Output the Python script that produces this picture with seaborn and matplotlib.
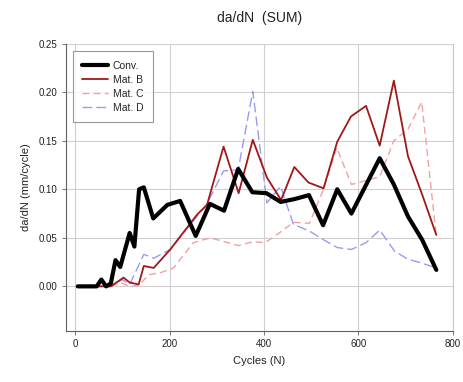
import matplotlib
matplotlib.use("Agg")
import matplotlib.pyplot as plt
import seaborn as sns
import pandas as pd

# ---- data ----
conv_x = [5, 45, 55, 65, 75, 85, 95, 115, 125, 135, 145, 165, 195, 222, 255, 285,
          315, 345, 375, 405, 435, 465, 495, 525, 555, 585, 645, 675, 705, 735, 765]
conv_y = [0.000, 0.000, 0.007, 0.000, 0.003, 0.027, 0.020, 0.055, 0.041, 0.100, 0.102,
          0.070, 0.084, 0.088, 0.052, 0.085, 0.078, 0.121, 0.097, 0.096, 0.087, 0.090,
          0.094, 0.063, 0.100, 0.075, 0.132, 0.105, 0.072, 0.048, 0.017]

matb_x = [5, 45, 75, 102, 115, 134, 145, 166, 201, 258, 279, 314, 346, 376, 406, 436,
          464, 494, 526, 555, 584, 616, 645, 675, 705, 734, 765]
matb_y = [0.000, 0.000, 0.000, 0.009, 0.004, 0.002, 0.021, 0.019, 0.038, 0.074, 0.084,
          0.144, 0.096, 0.151, 0.112, 0.089, 0.123, 0.107, 0.101, 0.149, 0.175, 0.186,
          0.145, 0.212, 0.134, 0.096, 0.053]

matc_x = [5, 45, 75, 95, 115, 135, 155, 180, 208, 250, 286, 346, 376, 402, 432, 462,
          496, 526, 554, 585, 616, 645, 675, 705, 734, 765]
matc_y = [0.000, 0.000, 0.000, 0.004, 0.000, 0.001, 0.012, 0.014, 0.019, 0.045, 0.050,
          0.042, 0.046, 0.045, 0.055, 0.066, 0.065, 0.100, 0.143, 0.105, 0.109, 0.113,
          0.150, 0.162, 0.190, 0.052]

matd_x = [5, 45, 75, 99, 115, 145, 166, 201, 279, 314, 345, 376, 406, 435, 462, 496,
          526, 555, 585, 616, 645, 677, 705, 734, 765]
matd_y = [0.000, 0.000, 0.000, 0.007, 0.002, 0.033, 0.029, 0.038, 0.085, 0.119, 0.120,
          0.201, 0.086, 0.103, 0.064, 0.057, 0.048, 0.040, 0.038, 0.045, 0.058, 0.036,
          0.028, 0.024, 0.019]

series_names = ["Conv.", "Mat. B", "Mat. C", "Mat. D"]
x_ticks = [0, 200, 400, 600, 800]
y_ticks = [0.00, 0.05, 0.10, 0.15, 0.20, 0.25]

# ---- plot ----
sns.set_style("white")
plt.rcParams['font.family'] = ['Liberation Sans', 'DejaVu Sans']

fig = plt.figure(figsize=(4.63, 3.82), dpi=100)
ax = fig.add_axes([0.1425, 0.1335, 0.8355, 0.752])

styles = [
    dict(color="black", lw=3.0, ls="-"),
    dict(color="#a01818", lw=1.3, ls="-"),
    dict(color="#f4a0a0", lw=1.0, ls=(0, (5, 3))),
    dict(color="#9a9af2", lw=1.0, ls=(0, (7, 3))),
]
data = [(conv_x, conv_y), (matb_x, matb_y), (matc_x, matc_y), (matd_x, matd_y)]

# draw back-to-front like the reference (Conv. on top)
order = [3, 2, 1, 0]
for i in order:
    xs, ys = data[i]
    df = pd.DataFrame({"x": xs, "y": ys})
    st = styles[i]
    sns.lineplot(data=df, x="x", y="y", ax=ax, color=st["color"], lw=st["lw"],
                 linestyle=st["ls"], label=series_names[i], zorder=3 + (3 - i))

ax.set_xlim(-20, 800)
ax.set_ylim(-0.046, 0.25)
ax.set_xticks(x_ticks)
ax.set_yticks(y_ticks)
ax.set_yticklabels([f"{v:.2f}" for v in y_ticks])
ax.grid(True, color="#d0d0d0", lw=0.8)
ax.set_axisbelow(True)

for s in ["left", "bottom"]:
    ax.spines[s].set_color("#606060")
    ax.spines[s].set_linewidth(0.8)
ax.spines["right"].set_color("#c8c8c8")
ax.spines["top"].set_visible(False)
ax.tick_params(axis="both", direction="out", length=3, width=0.6, color="#606060",
               labelsize=7, labelcolor="#222222", left=True, bottom=True, pad=3)

ax.set_xlabel("Cycles (N)", fontsize=8, color="#222222", labelpad=5)
ax.set_ylabel("da/dN (mm/cycle)", fontsize=8, color="#222222", labelpad=6)
ax.set_title("da/dN  (SUM)", fontsize=10, color="#222222", pad=16, x=0.5)

handles, labels = ax.get_legend_handles_labels()
hmap = dict(zip(labels, handles))
leg = ax.legend([hmap[n] for n in series_names], series_names, loc="upper left",
                bbox_to_anchor=(0.01, 0.985), fontsize=7.5, frameon=True, fancybox=False,
                edgecolor="#808080", handlelength=2.5, labelspacing=0.4,
                borderpad=0.9, handletextpad=0.4, borderaxespad=0.3)
leg.get_frame().set_linewidth(0.8)

fig.savefig("out.png", dpi=100)
